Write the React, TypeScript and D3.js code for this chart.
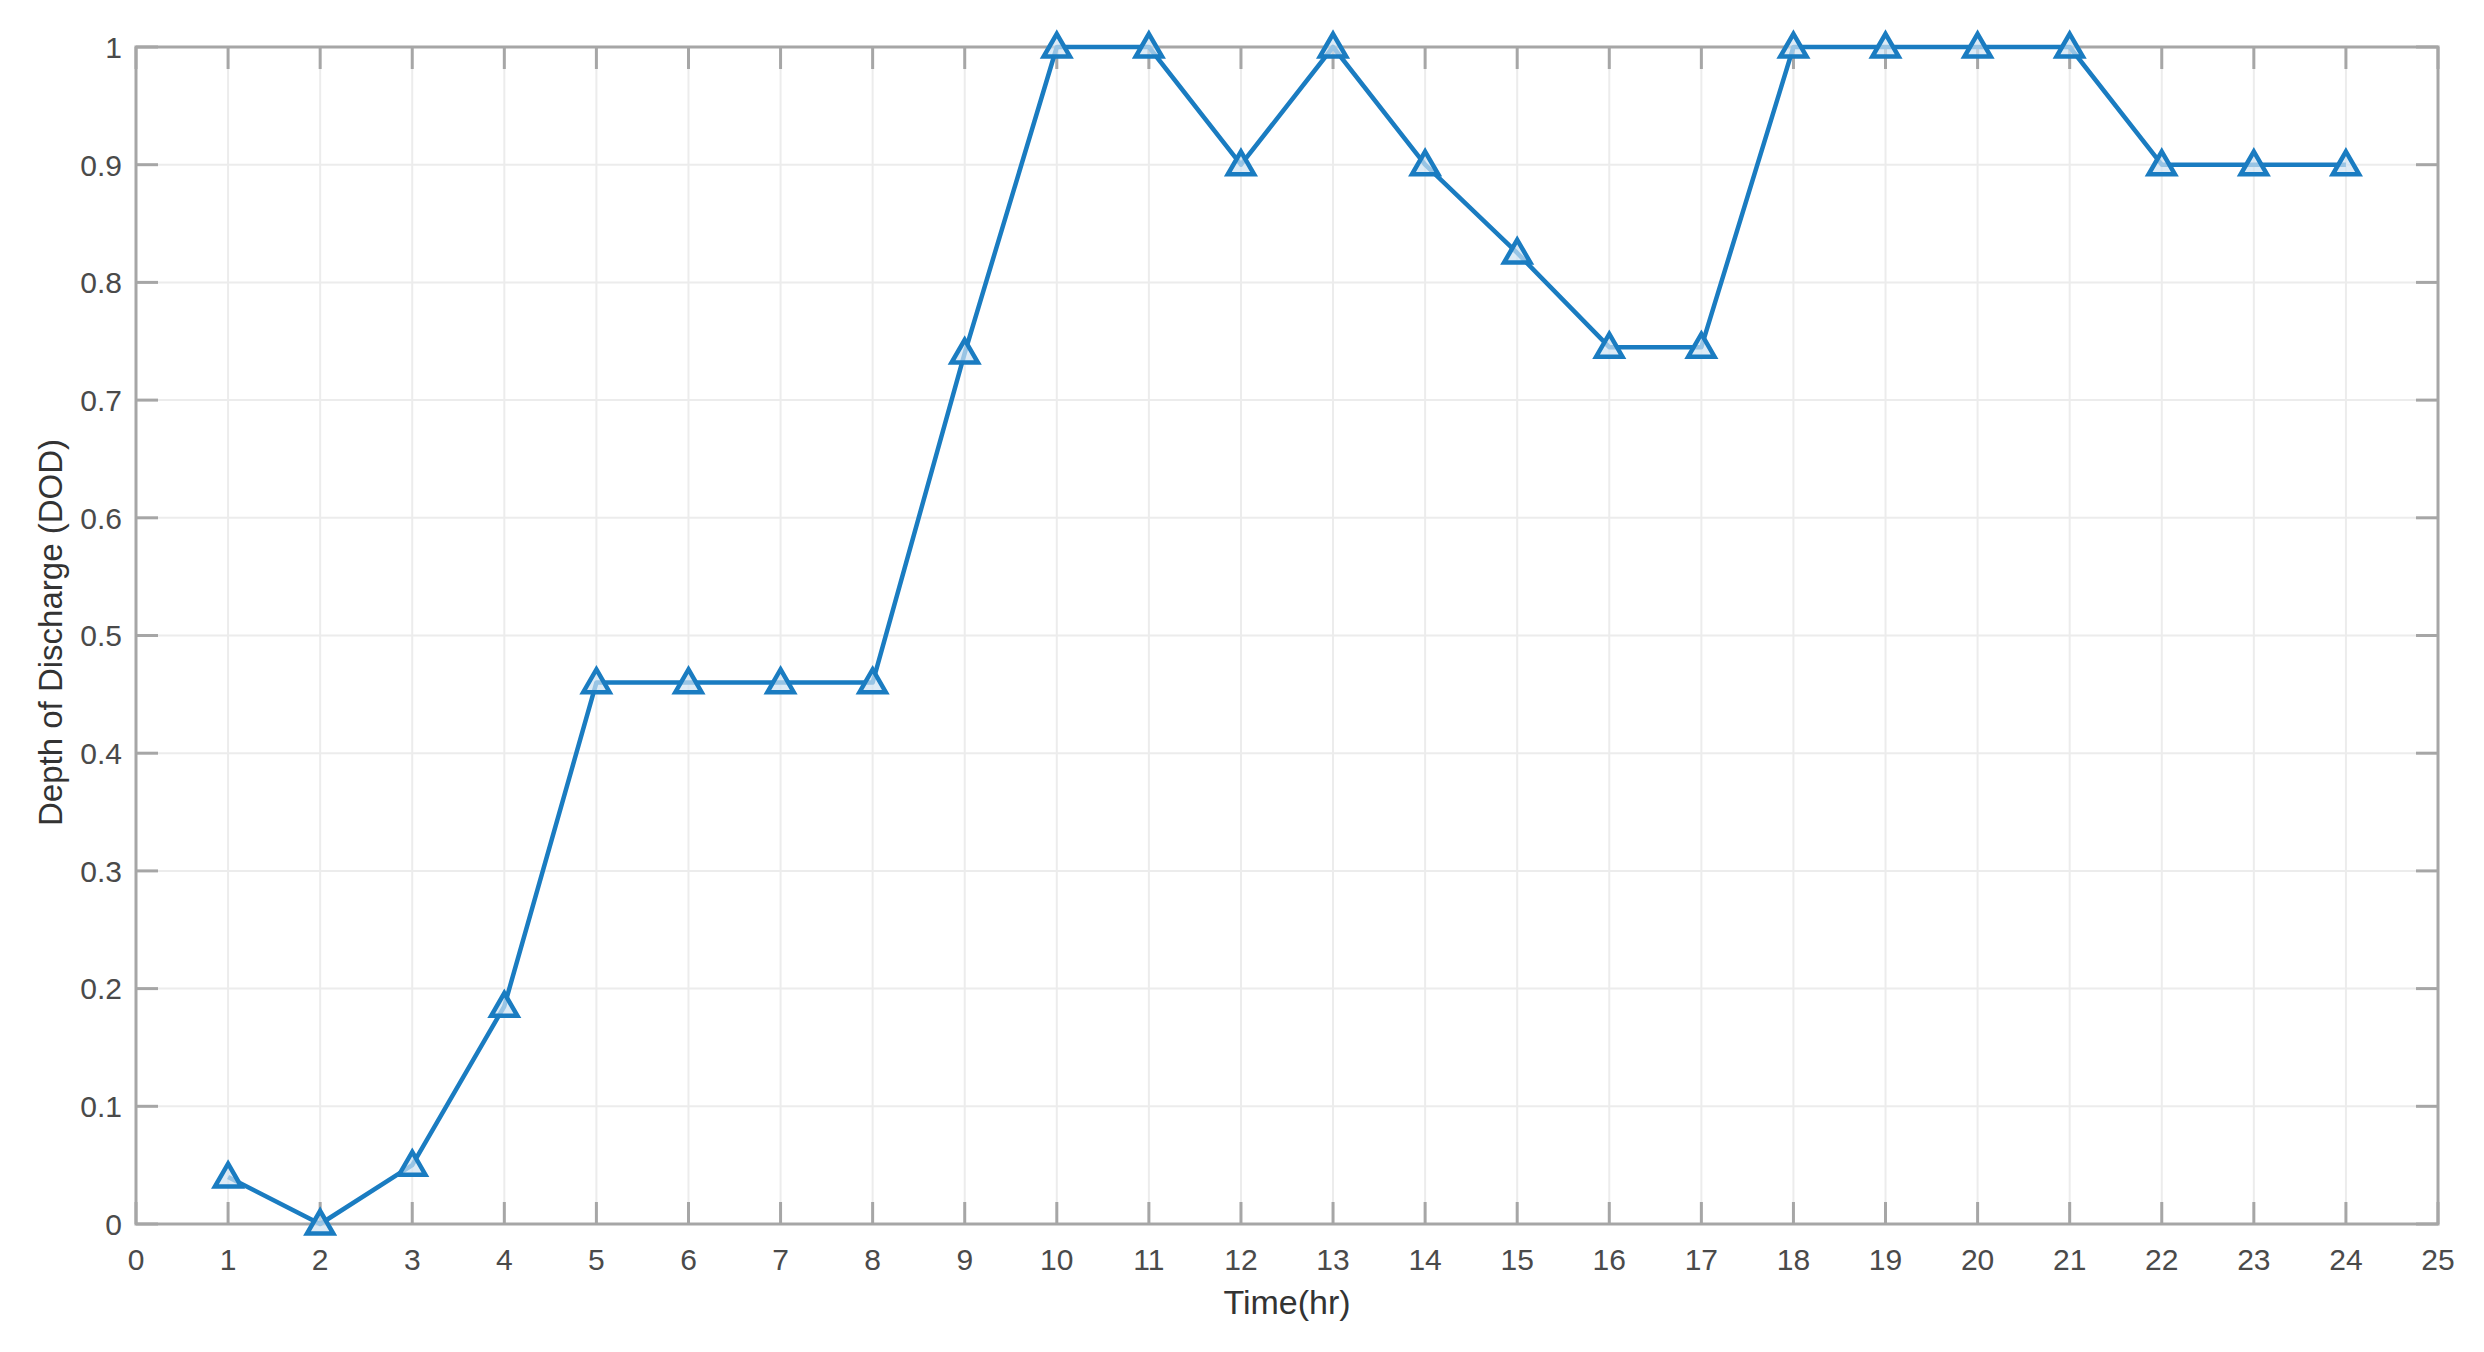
import React from "react";
import * as d3 from "d3";

const hours = [1,2,3,4,5,6,7,8,9,10,11,12,13,14,15,16,17,18,19,20,21,22,23,24];
const dod = [0.04,0.0,0.05,0.185,0.46,0.46,0.46,0.46,0.74,1,1,0.9,1,0.9,0.825,0.745,0.745,1,1,1,1,0.9,0.9,0.9];
const xTicks = d3.range(0, 26);
const yTicks = [0,0.1,0.2,0.3,0.4,0.5,0.6,0.7,0.8,0.9,1];
const xLabel = "Time(hr)";
const yLabel = "Depth of Discharge (DOD)";

const W = 2484, H = 1352;
const L = 136, R = 2438, T = 47, B = 1224;

export default function App() {
  const x = d3.scaleLinear().domain([0, 25]).range([L, R]);
  const y = d3.scaleLinear().domain([0, 1]).range([B, T]);
  const line = d3.line<number>().x((_, i) => x(hours[i])).y((d) => y(d));
  const tri = d3.symbol().type(d3.symbolTriangle).size(300)();
  const font = "'Liberation Sans', Arial, Helvetica, sans-serif";
  const tick = 22;
  const axisColor = "#a6a6a6";
  const textColor = "#4a4a4a";
  const blue = "#1a7cc1";
  return (
    <svg width={W} height={H} style={{ position: "absolute", left: 0, top: 0, background: "#fff" }}>
      {xTicks.map((t) => (
        <line key={"gx" + t} x1={x(t)} x2={x(t)} y1={T} y2={B} stroke="#ececec" strokeWidth={2} />
      ))}
      {yTicks.map((t) => (
        <line key={"gy" + t} x1={L} x2={R} y1={y(t)} y2={y(t)} stroke="#ececec" strokeWidth={2} />
      ))}
      {xTicks.map((t) => (
        <g key={"tx" + t}>
          <line x1={x(t)} x2={x(t)} y1={B} y2={B - tick} stroke={axisColor} strokeWidth={3} />
          <line x1={x(t)} x2={x(t)} y1={T} y2={T + tick} stroke={axisColor} strokeWidth={3} />
          <text x={x(t)} y={B + 46} textAnchor="middle" fontFamily={font} fontSize={30} fill={textColor}>{t}</text>
        </g>
      ))}
      {yTicks.map((t) => (
        <g key={"ty" + t}>
          <line x1={L} x2={L + tick} y1={y(t)} y2={y(t)} stroke={axisColor} strokeWidth={3} />
          <line x1={R} x2={R - tick} y1={y(t)} y2={y(t)} stroke={axisColor} strokeWidth={3} />
          <text x={122} y={y(t)} dy="0.36em" textAnchor="end" fontFamily={font} fontSize={30} fill={textColor}>{t}</text>
        </g>
      ))}
      <rect x={L} y={T} width={R - L} height={B - T} fill="none" stroke={axisColor} strokeWidth={3} />
      <path d={line(dod) || ""} fill="none" stroke={blue} strokeWidth={4.5} strokeLinejoin="round" />
      {dod.map((d, i) => (
        <path key={"m" + i} d={tri || ""} transform={`translate(${x(hours[i])},${y(d) + 2})`} fill="#cfe2f2" fillOpacity={0.7} stroke={blue} strokeWidth={4.5} />
      ))}
      <text x={(L + R) / 2} y={1314} textAnchor="middle" fontFamily={font} fontSize={34} fill="#333">{xLabel}</text>
      <text transform={`translate(62,${(T + B) / 2 - 3}) rotate(-90)`} textAnchor="middle" fontFamily={font} fontSize={33} fill="#333">{yLabel}</text>
    </svg>
  );
}
